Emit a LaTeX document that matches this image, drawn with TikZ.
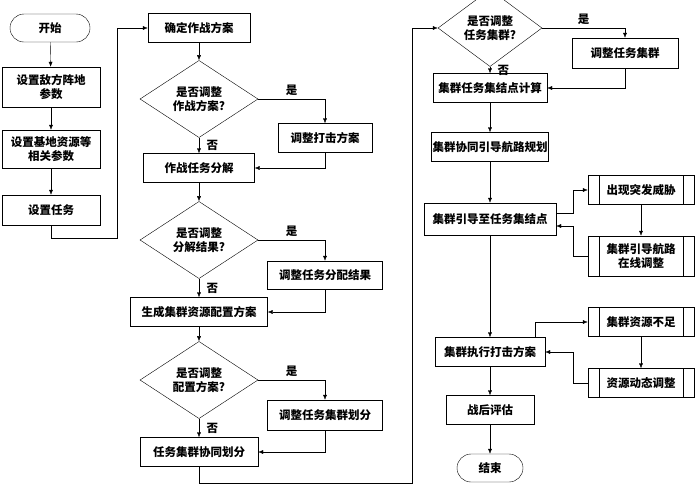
\documentclass[tikz,border=0pt]{standalone}
\usepackage{fontspec}
\setmainfont{Noto Sans CJK SC}
\usetikzlibrary{positioning}
\usetikzlibrary{arrows.meta}
\usetikzlibrary{shapes.geometric}

\tikzset{
    box/.style={rectangle, draw=black, fill=white, align=center, inner sep=1pt, font=\fontsize{11.5}{14}\selectfont\bfseries},
    term/.style={box, rounded corners=14pt},
    ask/.style={diamond, draw=black, align=center, inner sep=0pt, font=\fontsize{11.5}{14}\selectfont\bfseries},
    proc/.style={box, path picture={
        \draw ([xshift=11pt]path picture bounding box.north west) -- ([xshift=11pt]path picture bounding box.south west);
        \draw ([xshift=-11pt]path picture bounding box.north east) -- ([xshift=-11pt]path picture bounding box.south east);}},
    lbl/.style={font=\fontsize{11.5}{14}\selectfont\bfseries},
    flow/.style={-{Latex[length=5pt,width=4pt]}, thin}
}

\begin{document}
\begin{tikzpicture}[x=1pt, y=-1pt]
    \useasboundingbox (0,0) rectangle (700,488);

    % left column
    \node (start) [term, minimum width=80pt, minimum height=28pt] at (50,28) {开始};
    \node (enemy) [box, minimum width=98pt, minimum height=40pt] at (51,87) {设置敌方阵地\\参数};
    \node (base) [box, minimum width=98pt, minimum height=38pt] at (51,149) {设置基地资源等\\相关参数};
    \node (task) [box, minimum width=98pt, minimum height=30pt] at (51,210) {设置任务};

    % middle column
    \node (plan) [box, minimum width=102pt, minimum height=29pt] at (199,28) {确定作战方案};
    \node (ask1) [ask, minimum width=118pt, minimum height=56pt] at (199,99) {是否调整\\作战方案?};
    \node (adj1) [box, minimum width=94pt, minimum height=29pt] at (325,138) {调整打击方案};
    \node (split) [box, minimum width=111pt, minimum height=29pt] at (199,168) {作战任务分解};
    \node (ask2) [ask, minimum width=118pt, minimum height=56pt] at (199,240) {是否调整\\分解结果?};
    \node (adj2) [box, minimum width=115pt, minimum height=28pt] at (325,275) {调整任务分配结果};
    \node (alloc) [box, minimum width=137pt, minimum height=29pt] at (199,312) {生成集群资源配置方案};
    \node (ask3) [ask, minimum width=118pt, minimum height=56pt] at (199,380) {是否调整\\配置方案?};
    \node (adj3) [box, minimum width=115pt, minimum height=30pt] at (325,415) {调整任务集群划分};
    \node (group) [box, minimum width=118pt, minimum height=29pt] at (199,452) {任务集群协同划分};

    % right column
    \node (ask4) [ask, minimum width=104pt, minimum height=50pt] at (490,28) {是否调整\\任务集群?};
    \node (adj4) [box, minimum width=106pt, minimum height=30pt] at (625,53) {调整任务集群};
    \node (meet) [box, minimum width=114pt, minimum height=29pt] at (490,88) {集群任务集结点计算};
    \node (route) [box, minimum width=114pt, minimum height=29pt] at (490,147) {集群协同引导航路规划};
    \node (guide) [box, minimum width=132pt, minimum height=32pt] at (490,219) {集群引导至任务集结点};
    \node (threat) [proc, minimum width=106pt, minimum height=29pt] at (641,190) {出现突发威胁};
    \node (online) [proc, minimum width=106pt, minimum height=40pt] at (641,256) {集群引导航路\\在线调整};
    \node (strike) [box, minimum width=110pt, minimum height=29pt] at (490,352) {集群执行打击方案};
    \node (short) [proc, minimum width=106pt, minimum height=29pt] at (641,322) {集群资源不足};
    \node (dyn) [proc, minimum width=106pt, minimum height=29pt] at (641,383) {资源动态调整};
    \node (eval) [box, minimum width=88pt, minimum height=29pt] at (490,410) {战后评估};
    \node (stop) [term, minimum width=66pt, minimum height=28pt] at (490,468) {结束};

    % left column flow
    \draw [flow] (start) -- (enemy);
    \draw [flow] (enemy) -- (base);
    \draw [flow] (base) -- (task);
    \draw [flow] (task.south) -- ++(0,13) -| (117,28) -- (plan.west);

    % middle column flow
    \draw [flow] (plan) -- (ask1);
    \draw [flow] (ask1) -- node [lbl, right=4pt] {否} (split);
    \draw [flow] (ask1.east) -- node [lbl, above] {是} (adj1.north |- ask1.east) -- (adj1.north);
    \draw [flow] (adj1.south) |- (split.east);
    \draw [flow] (split) -- (ask2);
    \draw [flow] (ask2) -- node [lbl, right=4pt] {否} (alloc);
    \draw [flow] (ask2.east) -- node [lbl, above] {是} (adj2.north |- ask2.east) -- (adj2.north);
    \draw [flow] (adj2.south) |- (alloc.east);
    \draw [flow] (alloc) -- (ask3);
    \draw [flow] (ask3) -- node [lbl, right=4pt] {否} (group);
    \draw [flow] (ask3.east) -- node [lbl, above] {是} (adj3.north |- ask3.east) -- (adj3.north);
    \draw [flow] (adj3.south) |- (group.east);
    \draw [flow] (group.south) -- ++(0,16) -| (412,28) -- (ask4.west);

    % right column flow
    \draw [flow] (ask4) -- node [lbl, right=4pt] {否} (meet);
    \draw [flow] (ask4.east) -- node [lbl, above] {是} (adj4.north |- ask4.east) -- (adj4.north);
    \draw [flow] (adj4.south) |- (meet.east);
    \draw [flow] (meet) -- (route);
    \draw [flow] (route) -- (guide);
    \draw [flow] ([yshift=6pt]guide.east) -- (573,213) |- (threat.west);
    \draw [flow] (threat) -- (online);
    \draw [flow] (online.west) -- (573,256) |- ([yshift=-7pt]guide.east);
    \draw [flow] (guide) -- (strike);
    \draw [flow] ([xshift=-10pt]strike.north east) |- (short.west);
    \draw [flow] (short) -- (dyn);
    \draw [flow] (dyn.west) -- (573,383) |- (strike.east);
    \draw [flow] (strike) -- (eval);
    \draw [flow] (eval) -- (stop);
\end{tikzpicture}
\end{document}
